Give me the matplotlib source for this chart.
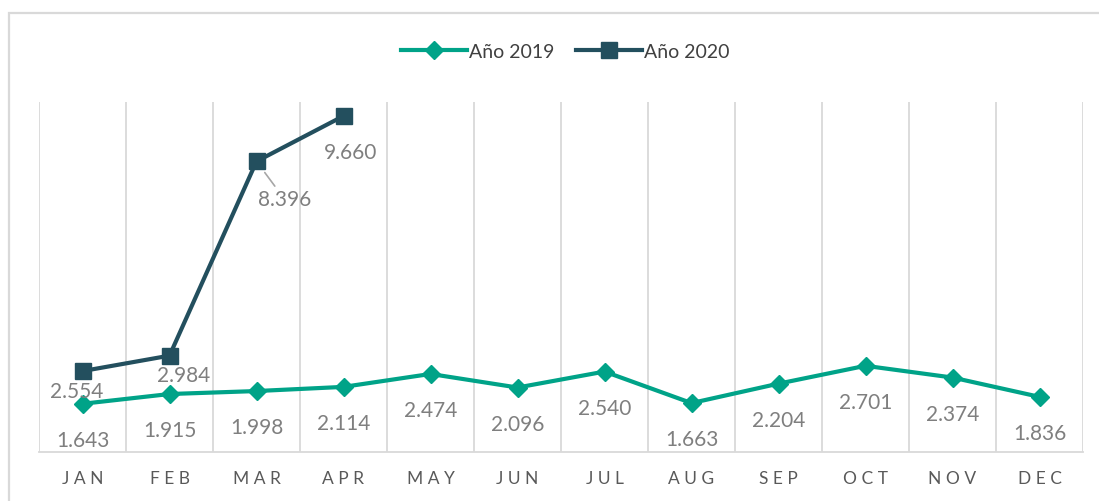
import matplotlib.pyplot as plt
from matplotlib.patches import Rectangle

plt.rcParams['font.family'] = ['Lato', 'DejaVu Sans']

# data
months = ['JAN', 'FEB', 'MAR', 'APR', 'MAY', 'JUN', 'JUL', 'AUG', 'SEP', 'OCT', 'NOV', 'DEC']
v2019 = [1.643, 1.915, 1.998, 2.114, 2.474, 2.096, 2.540, 1.663, 2.204, 2.701, 2.374, 1.836]
v2020 = [2.554, 2.984, 8.396, 9.660]

c2019 = '#00A388'
c2020 = '#234F5E'
grid_c = '#D9D9D9'
lab_c = '#7F7F7F'

fig = plt.figure(figsize=(10.99, 5.02), dpi=100)
ax = fig.add_axes([39/1099, 49/502, (1083-39)/1099, (453-103)/502])

# figure border
fig.patches.append(Rectangle((9/1099, -0.05), 1.2, 1 - 14/502 + 0.05, transform=fig.transFigure,
                             fill=False, edgecolor=grid_c, linewidth=1.6))

x = list(range(len(months)))
x20 = x[:len(v2020)]

ax.plot(x, v2019, '-D', color=c2019, lw=3, markersize=9, label='Año 2019', zorder=3)
ax.plot(x20, v2020, '-s', color=c2020, lw=3, markersize=11, label='Año 2020', zorder=4)

# value labels 2019 (below)
for i, v in enumerate(v2019):
    ax.annotate(f'{v:.3f}', (i, v), textcoords='offset points', xytext=(0, -26),
                ha='center', va='center', fontsize=15, color=lab_c)

# value labels 2020
offs = [(-4, -14), (10, -14), (20, -27), (5, -26)]
for i, v in enumerate(v2020):
    dx, dy = offs[i]
    if i == 2:
        ax.annotate(f'{v:.3f}', (i, v), textcoords='offset points', xytext=(dx, dy),
                    ha='center', va='center', fontsize=15, color=lab_c,
                    arrowprops=dict(arrowstyle='-', color='#A6A6A6', lw=1.2, shrinkA=0, shrinkB=10))
    else:
        ax.annotate(f'{v:.3f}', (i, v), textcoords='offset points', xytext=(dx, dy),
                    ha='center', va='center', fontsize=15, color=lab_c)

ax.set_xlim(-0.5, 11.5)
ax.set_ylim(0.3, 10.05)

# vertical gridlines on category boundaries
for b in range(13):
    ax.axvline(b - 0.5, color=grid_c, lw=1.3, zorder=1)

for s in ax.spines.values():
    s.set_visible(False)
ax.spines['bottom'].set_visible(True)
ax.spines['bottom'].set_color(grid_c)
ax.spines['bottom'].set_linewidth(1.3)

ax.set_yticks([])
ax.set_xticks(x)
ax.set_xticklabels([' '.join(m) for m in months], fontsize=12.5, color='#595959')
ax.tick_params(axis='x', length=0, pad=13)

fig.legend(loc='center', bbox_to_anchor=(565/1099, 1 - 52/502), ncol=2, frameon=False,
           fontsize=14, handlelength=3.4, columnspacing=1.1, handletextpad=0.1,
           labelcolor='#404040')

plt.savefig('out.png', dpi=100, facecolor='white')
